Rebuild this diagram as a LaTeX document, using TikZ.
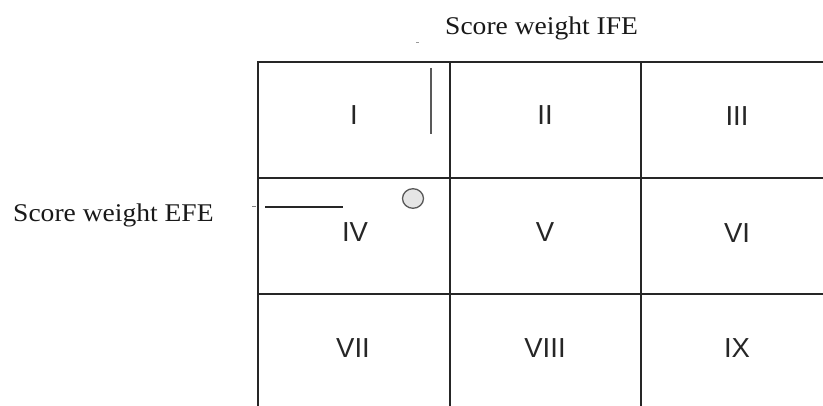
\documentclass[tikz,border=0pt]{standalone}
\usepackage{fontspec}
\newfontfamily\serifft{Liberation Serif}
\newfontfamily\sansft{Liberation Sans}
\begin{document}
\begin{tikzpicture}[x=1pt,y=-1pt,
  gridline/.style={line width=1.6pt,black!85},
  cellnum/.style={inner sep=0pt,anchor=center,text=black!85,font=\sansft\fontsize{27.5}{30}\selectfont},
  axistitle/.style={inner sep=0pt,text=black!90,font=\serifft\fontsize{25.5}{30}\selectfont},
  markline/.style={line width=1.5pt,black!65}]
\useasboundingbox[fill=white] (0,0) rectangle (823,406);
% grid
\coordinate (tl) at (258,62);
\draw[gridline] (258,406) -- (tl) -- (823,62);
\draw[gridline] (258,178) -- (823,178);
\draw[gridline] (258,294) -- (823,294);
\draw[gridline] (450,62) -- (450,406);
\draw[gridline] (641,62) -- (641,406);
% cell labels
\node[cellnum] (c1) at (354,115) {I};
\node[cellnum] (c2) at (545,115) {II};
\node[cellnum] (c3) at (737,116) {III};
\node[cellnum] (c4) at (355,232) {IV};
\node[cellnum] (c5) at (545,232) {V};
\node[cellnum] (c6) at (737,233) {VI};
\node[cellnum] (c7) at (353,348) {VII};
\node[cellnum] (c8) at (545,348) {VIII};
\node[cellnum] (c9) at (737,348) {IX};
% titles
\node[axistitle,anchor=base west] (ife) at (445,35) {\scalebox{1.08}[1]{Score weight IFE}};
\node[axistitle,anchor=base west] (efe) at (13,222) {\scalebox{1.08}[1]{Score weight EFE}};
% marks
\coordinate (va) at (431,68);
\coordinate (vb) at (431,134);
\draw[markline] (va) -- (vb);
\coordinate (ha) at (265,207);
\coordinate (hb) at (343,207);
\draw[markline,black!85] (ha) -- (hb);
\draw[line width=1pt,black!50] (252,207) -- (256,207);
\draw[line width=1pt,black!40] (416,43) -- (419,43);
\draw[line width=1.3pt,black!65,fill=black!10] (413,198.5) ellipse [x radius=10.5,y radius=9.8];
\end{tikzpicture}
\end{document}
